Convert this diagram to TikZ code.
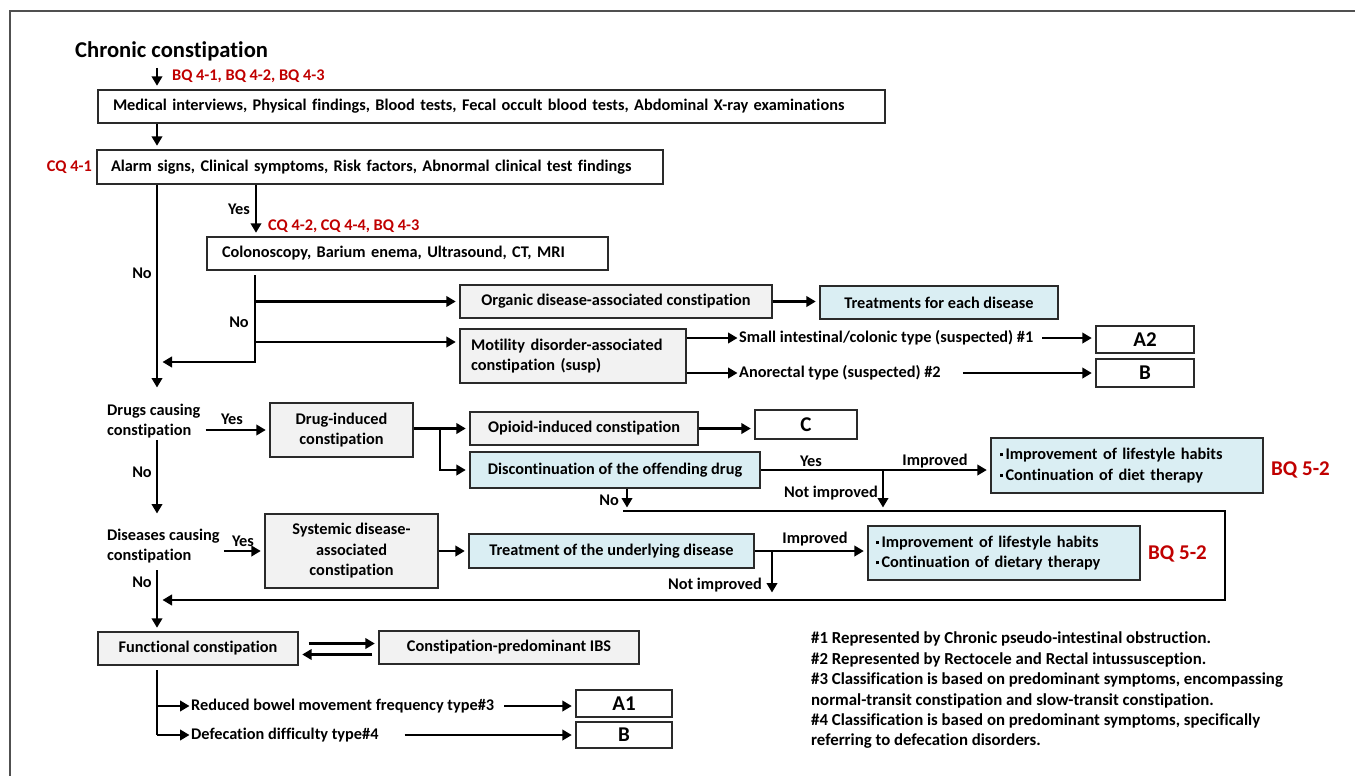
\documentclass[tikz,border=0pt]{standalone}
\usepackage{fontspec}
\setmainfont{Carlito}[Ligatures=NoCommon]
\usetikzlibrary{arrows.meta}
\definecolor{qred}{HTML}{C00000}
\definecolor{gfill}{HTML}{F2F2F2}
\definecolor{bfill}{HTML}{DAEEF3}
\definecolor{edge}{HTML}{2A2A2A}
\definecolor{frame}{HTML}{505050}
\newcommand{\sq}{\raisebox{3.4pt}{\rule{3pt}{3pt}}\hspace{2.5pt}}

\begin{document}
\begin{tikzpicture}[x=1pt,y=-1pt,
  every node/.style={font=\fontsize{16.3}{19}\selectfont\bfseries, inner sep=0pt},
  box/.style={draw=edge, line width=1.4pt, align=center},
  gbox/.style={box, fill=gfill},
  bbox/.style={box, fill=bfill},
  wbox/.style={box, fill=white, font=\fontsize{21}{24}\selectfont\bfseries},
  arr/.style={line width=2.8pt, shorten >=3.5pt, -{Triangle[length=9.5pt,width=10.5pt]}},
  seg/.style={line width=2.8pt},
  qlabel/.style={text=qred},
  lab/.style={font=\fontsize{16.3}{19}\selectfont\bfseries},
  twoline/.style={font=\fontsize{16.3}{20.5}\selectfont\bfseries},
]
\useasboundingbox (0,0) rectangle (1355,776);

% outer frame (open to the right and bottom)
\draw[frame, line width=2pt] (10,776) -- (10,11) -- (1355,11);

% ---------- diagnosis ----------
\node[anchor=west, font=\fontsize{22.6}{26}\selectfont\bfseries] (title) at (75,51) {Chronic constipation};
\node[qlabel, anchor=west] (bq1) at (172,76) {BQ 4-1, BQ 4-2, BQ 4-3};
\node[box, minimum width=787pt, minimum height=33pt, text width=757pt, align=left] (med) at (491.5,106.5)
  {Medical interviews, Physical findings, Blood tests, Fecal occult blood tests, Abdominal X-ray examinations};
\node[box, minimum width=566pt, minimum height=34pt, text width=538pt, align=left] (alarm) at (380,167)
  {Alarm signs, Clinical symptoms, Risk factors, Abnormal clinical test findings};
\node[qlabel, anchor=east] (cq1) at (92,167) {CQ 4-1};
\node[qlabel, anchor=west] (cq2) at (268,226) {CQ 4-2, CQ 4-4, BQ 4-3};
\node[box, minimum width=401pt, minimum height=33pt, text width=371pt, align=left] (colono) at (407.5,253.5)
  {Colonoscopy, Barium enema, Ultrasound, CT, MRI};

\node[gbox, minimum width=312pt, minimum height=33pt] (organic) at (616,301.5) {Organic disease-associated constipation};
\node[bbox, minimum width=238pt, minimum height=33pt] (treat1) at (939,302.5) {Treatments for each disease};
\node[gbox, twoline, minimum width=226pt, minimum height=54pt, text width=204pt, align=left] (motility) at (573,356)
  {Motility disorder-associated\\constipation (susp)};
\node[lab, anchor=west] (sil) at (739,338) {Small intestinal/colonic type (suspected) \#1};
\node[lab, anchor=west] (ano) at (739,373) {Anorectal type (suspected) \#2};
\node[wbox, minimum width=98pt, minimum height=27pt] (a2) at (1145,339.5) {A2};
\node[wbox, minimum width=98pt, minimum height=28pt] (b1) at (1145,373) {B};

% ---------- drugs ----------
\node[anchor=west, align=left, twoline] (drugs) at (107,421) {Drugs causing\\constipation};
\node[gbox, twoline, minimum width=143pt, minimum height=54pt] (drug) at (341.5,430) {Drug-induced\\constipation};
\node[gbox, minimum width=228pt, minimum height=33pt] (opioid) at (584,428.5) {Opioid-induced constipation};
\node[wbox, minimum width=102pt, minimum height=29pt] (cbox) at (806,424.5) {C};
\node[bbox, minimum width=290pt, minimum height=36pt] (disc) at (615,470) {Discontinuation of the offending drug};
\node[bbox, twoline, minimum width=272pt, minimum height=55pt, text width=254pt, align=left] (life1) at (1127,465.5)
  {\sq Improvement of lifestyle habits\\\sq Continuation of diet therapy};
\node[qlabel, anchor=west, font=\fontsize{21}{24}\selectfont\bfseries] (bq5a) at (1271,470) {BQ 5-2};

% ---------- diseases ----------
\node[anchor=west, align=left, twoline] (dis) at (107,546) {Diseases causing\\constipation};
\node[gbox, twoline, minimum width=173pt, minimum height=74pt] (systemic) at (351.5,551)
  {Systemic disease-\\associated\\constipation};
\node[bbox, minimum width=285pt, minimum height=34pt] (treat2) at (611.5,551) {Treatment of the underlying disease};
\node[bbox, twoline, minimum width=272pt, minimum height=54pt, text width=256pt, align=left] (life2) at (1004,553)
  {\sq Improvement of lifestyle habits\\\sq Continuation of dietary therapy};
\node[qlabel, anchor=west, font=\fontsize{21}{24}\selectfont\bfseries] (bq5b) at (1148,554) {BQ 5-2};

% ---------- functional ----------
\node[gbox, minimum width=200pt, minimum height=33pt] (func) at (198,648.5) {Functional constipation};
\node[gbox, minimum width=260pt, minimum height=33pt] (ibs) at (509,647.5) {Constipation-predominant IBS};
\node[lab, anchor=west] (red) at (191,706) {Reduced bowel movement frequency type\#3};
\node[lab, anchor=west] (def) at (191,735) {Defecation difficulty type\#4};
\node[wbox, minimum width=96pt, minimum height=27pt] (a1) at (624,703.5) {A1};
\node[wbox, minimum width=96pt, minimum height=26pt] (b2) at (624,735) {B};

\node[anchor=north west, align=left, font=\fontsize{16.8}{20.4}\selectfont\bfseries] (notes) at (811,632)
  {\#1 Represented by Chronic pseudo-intestinal obstruction.\\
   \#2 Represented by Rectocele and Rectal intussusception.\\
   \#3 Classification is based on predominant symptoms, encompassing\\
   normal-transit constipation and slow-transit constipation.\\
   \#4 Classification is based on predominant symptoms, specifically\\
   referring to defecation disorders.};

% ---------- branch labels ----------
\node[lab] (yes1) at (239,209) {Yes};
\node[lab] (no1) at (142,273) {No};
\node[lab] (no2) at (239,322) {No};
\node[lab] (yes2) at (232,419) {Yes};
\node[lab] (yes3) at (811,461) {Yes};
\node[lab] (imp1) at (935,461) {Improved};
\node[lab, anchor=east] (nimp1) at (878,493) {Not improved};
\node[lab, anchor=east] (no3) at (619,500) {No};
\node[lab] (no4) at (142,472) {No};
\node[lab] (yes4) at (243,541) {Yes};
\node[lab] (imp2) at (815,539) {Improved};
\node[lab, anchor=east] (nimp2) at (762,585) {Not improved};
\node[lab] (no5) at (142,582) {No};

% ---------- routing points ----------
\coordinate (spine) at (157,0);
\coordinate (ybr) at (256,0);
\coordinate (c1) at (255,275);
\coordinate (c2) at (255,362);
\coordinate (m1) at (255,342);
\coordinate (n1) at (157,391);
\coordinate (db) at (440,0);
\coordinate (nd) at (627,511);
\coordinate (lp1) at (623,511);
\coordinate (lp2) at (1225,511);
\coordinate (lp3) at (1225,600);
\coordinate (ni1) at (883,511);
\coordinate (ni2) at (772,596);
\coordinate (n2a) at (157,440);
\coordinate (n2b) at (157,517);
\coordinate (n3) at (157,570);
\coordinate (f0) at (157,670);
\coordinate (f1) at (157,735);

% ---------- connectors ----------
\draw[arr] ([yshift=-7pt]title.south -| spine) -- (med.north -| spine);
\draw[arr] (med.south -| spine) -- (alarm.north -| spine);
\draw[arr] (alarm.south -| spine) -- (n1);
\draw[arr] (alarm.south -| ybr) -- (colono.north -| ybr);

\draw[arr, shorten >=5.5pt] (c1) -- (c2) -- (c2 -| spine);
\draw[arr] (organic.west -| c1) -- (organic.west);
\draw[arr] (m1) -- (m1 -| motility.west);
\draw[arr] (organic.east) -- (organic.east -| treat1.west);
\draw[arr, shorten >=1.5pt] (sil.west -| motility.east) -- (sil.west);
\draw[arr, shorten >=1.5pt] (ano.west -| motility.east) -- (ano.west);
\draw[arr] ([xshift=9pt]sil.east) -- (sil.east -| a2.west);
\draw[arr] ([xshift=22pt]ano.east) -- (ano.east -| b1.west);

\draw[arr] ([xshift=5pt]drugs.east |- drug.west) -- (drug.west);
\draw[arr] (db |- opioid.west) -- (db |- disc.west) -- (disc.west);
\draw[arr] (drug.east |- opioid.west) -- (opioid.west);
\draw[arr] (opioid.east) -- (opioid.east -| cbox.west);
\draw[arr] (disc.east) -- (disc.east -| life1.west);
\draw[arr] (disc.east -| ni1) -- (ni1);
\draw[arr] (disc.south -| nd) -- (nd);
\draw[arr, shorten >=5.5pt] (lp1) -- (lp2) -- (lp3) -- (lp3 -| spine);
\draw[arr] (n2a) -- (n2b);

\draw[arr] ([xshift=4pt]dis.east |- systemic.west) -- (systemic.west);
\draw[arr] (systemic.east) -- (systemic.east -| treat2.west);
\draw[arr] (treat2.east) -- (treat2.east -| life2.west);
\draw[arr] (treat2.east -| ni2) -- (ni2);
\draw[arr] (n3) -- (func.north -| spine);

\draw[arr] ([xshift=10pt,yshift=5pt]func.east) -- ([yshift=5pt]func.east -| ibs.west);
\draw[arr] ([xshift=-6pt,yshift=-6pt]func.east -| ibs.west) -- ([yshift=-6pt]func.east);
\draw[seg] (f0) -- (f1);
\draw[arr, shorten >=1.5pt] (spine |- red.west) -- (red.west);
\draw[arr, shorten >=1.5pt] (f1) -- (def.west);
\draw[arr] ([xshift=10pt]red.east) -- (red.east -| a1.west);
\draw[arr] ([xshift=26pt]def.east) -- (def.east -| b2.west);
\end{tikzpicture}
\end{document}
